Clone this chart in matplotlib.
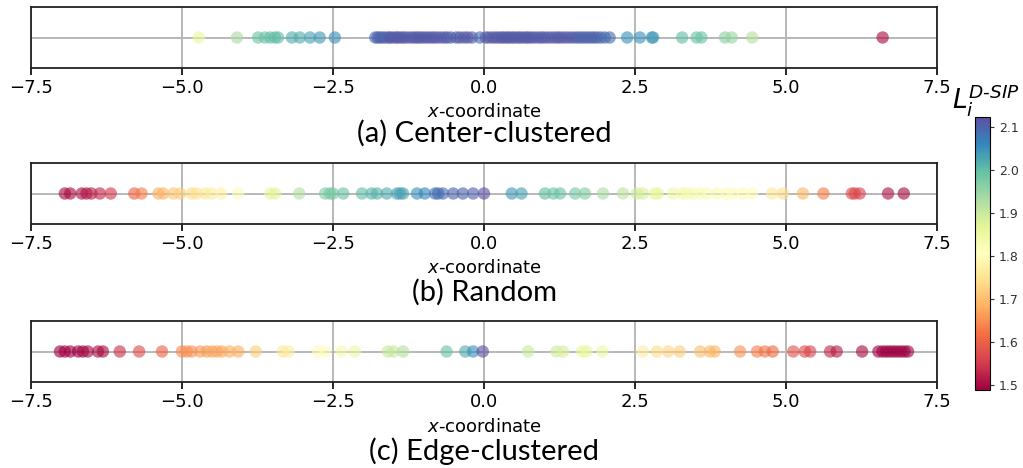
import numpy as np
import matplotlib
matplotlib.use("Agg")
import matplotlib.pyplot as plt
from matplotlib.colors import Normalize

# (a) center-clustered: x positions and L_i^{D-SIP} values
x_center = [-4.72, -4.09, -3.74, -3.63, -3.54, -3.46, -3.41, -3.18, -3.05, -2.88, -2.72, -2.47,
            -1.80, -1.76, -1.72, -1.68, -1.63, -1.58, -1.55, -1.50, -1.45, -1.42, -1.37, -1.33,
            -1.28, -1.22, -1.17, -1.12, -1.08, -1.03, -0.98, -0.93, -0.88, -0.83, -0.78, -0.72,
            -0.66, -0.61, -0.55, -0.46, -0.40, -0.33, -0.27, -0.20, -0.07, 0.03, 0.08, 0.14,
            0.19, 0.24, 0.29, 0.33, 0.38, 0.42, 0.47, 0.51, 0.56, 0.60, 0.65, 0.70, 0.74, 0.79,
            0.84, 0.90, 0.95, 1.00, 1.06, 1.12, 1.18, 1.23, 1.28, 1.34, 1.40, 1.46, 1.52, 1.57,
            1.62, 1.67, 1.72, 1.77, 1.82, 1.87, 1.93, 2.00, 2.08,
            2.37, 2.58, 2.78, 2.80, 3.28, 3.52, 3.60, 3.99, 4.10, 4.44, 6.60]
l_center = [1.86, 1.93, 1.99, 1.99, 2.00, 2.00, 2.00, 2.02, 2.02, 2.03, 2.04, 2.05,
            2.09, 2.10, 2.10, 2.10, 2.10, 2.10, 2.11, 2.11, 2.11, 2.11, 2.11, 2.11,
            2.11, 2.11, 2.11, 2.11, 2.11, 2.11, 2.11, 2.11, 2.11, 2.11, 2.11, 2.11,
            2.11, 2.11, 2.10, 2.11, 2.11, 2.11, 2.11, 2.11, 2.09, 2.11, 2.11, 2.11,
            2.11, 2.11, 2.11, 2.11, 2.11, 2.11, 2.11, 2.11, 2.11, 2.11, 2.11, 2.11, 2.11, 2.11,
            2.11, 2.11, 2.11, 2.11, 2.11, 2.11, 2.11, 2.11, 2.11, 2.11, 2.11, 2.11, 2.11, 2.10,
            2.10, 2.10, 2.10, 2.10, 2.10, 2.10, 2.10, 2.09, 2.09,
            2.05, 2.05, 2.04, 2.04, 2.00, 1.99, 1.99, 1.96, 1.95, 1.92, 1.50]

# (b) random
x_random = [-6.94, -6.85, -6.66, -6.58, -6.50, -6.36, -6.18, -5.79, -5.67, -5.39, -5.31, -5.14,
            -5.03, -4.84, -4.76, -4.62, -4.51, -4.35, -4.07, -3.54, -3.46, -3.06, -2.63, -2.55,
            -2.50, -2.33, -2.02, -1.86, -1.77, -1.61, -1.44, -1.39, -1.34, -1.11, -0.98, -0.81,
            -0.76, -0.68, -0.51, -0.35, -0.18, 0.00, 0.46, 0.62, 1.01, 1.15, 1.26, 1.51, 1.67,
            1.97, 2.30, 2.53, 2.63, 2.83, 2.88, 3.13, 3.28, 3.36, 3.46, 3.58, 3.69, 3.86, 4.02,
            4.12, 4.29, 4.44, 4.77, 4.95, 5.28, 5.62, 6.09, 6.14, 6.22, 6.69, 6.95]
l_random = [1.50, 1.50, 1.51, 1.51, 1.52, 1.53, 1.55, 1.60, 1.63, 1.68, 1.69, 1.71,
            1.72, 1.74, 1.75, 1.76, 1.77, 1.78, 1.81, 1.86, 1.87, 1.92, 1.97, 1.98,
            1.98, 1.99, 2.00, 2.01, 2.01, 2.02, 2.03, 2.03, 2.03, 2.05, 2.06, 2.08,
            2.09, 2.09, 2.10, 2.10, 2.10, 2.12, 2.04, 2.03, 2.00, 1.99, 1.99, 1.98, 1.97,
            1.93, 1.91, 1.89, 1.88, 1.86, 1.86, 1.84, 1.84, 1.83, 1.83, 1.82, 1.82, 1.82, 1.81,
            1.81, 1.80, 1.80, 1.76, 1.74, 1.69, 1.63, 1.57, 1.57, 1.56, 1.51, 1.50]

# (c) edge-clustered
x_edge = [-7.02, -6.94, -6.85, -6.72, -6.64, -6.56, -6.39, -6.31, -6.03, -5.71, -5.33, -5.00,
          -4.92, -4.84, -4.70, -4.59, -4.50, -4.42, -4.34, -4.21, -4.07, -3.78, -3.33, -3.24,
          -2.75, -2.63, -2.36, -2.14, -1.59, -1.50, -1.34, -0.62, -0.31, -0.18, -0.02, 0.73,
          1.20, 1.31, 1.62, 1.70, 1.96, 2.63, 2.86, 3.05, 3.24, 3.58, 3.74, 3.82, 4.24, 4.52,
          4.65, 4.78, 5.12, 5.31, 5.40, 5.73, 5.84, 6.26, 6.53, 6.60, 6.66, 6.72, 6.78, 6.84,
          6.90, 6.96, 7.02]
l_edge = [1.49, 1.49, 1.49, 1.49, 1.49, 1.50, 1.50, 1.50, 1.54, 1.57, 1.60, 1.64,
          1.65, 1.65, 1.66, 1.66, 1.67, 1.67, 1.67, 1.68, 1.68, 1.72, 1.76, 1.77,
          1.80, 1.81, 1.83, 1.85, 1.90, 1.90, 1.92, 1.99, 2.02, 2.05, 2.12, 1.90,
          1.89, 1.88, 1.86, 1.86, 1.85, 1.77, 1.74, 1.73, 1.72, 1.70, 1.69, 1.69, 1.65, 1.63,
          1.62, 1.61, 1.58, 1.57, 1.56, 1.53, 1.52, 1.50, 1.49, 1.49, 1.49, 1.49, 1.49, 1.49,
          1.49, 1.49, 1.49]

captions = ["(a) Center-clustered", "(b) Random", "(c) Edge-clustered"]
xticks = [-7.5, -5.0, -2.5, 0.0, 2.5, 5.0, 7.5]
cbar_ticks = [1.5, 1.6, 1.7, 1.8, 1.9, 2.0, 2.1]

W, H = 1023, 468
fig = plt.figure(figsize=(W / 100, H / 100), dpi=100)
norm = Normalize(vmin=1.488, vmax=2.123)
cmap = plt.get_cmap("Spectral")

panels = [(x_center, l_center), (x_random, l_random), (x_edge, l_edge)]
tops = [7, 163, 321]          # axes top, in pixels
label_y = [112, 268, 427]     # x-label centre, pixels
cap_y = [133, 292, 451]       # caption centre, pixels
ax_h = 61

for i, (xs, ls) in enumerate(panels):
    ax = fig.add_axes([31 / W, 1 - (tops[i] + ax_h) / H, 906 / W, ax_h / H])
    ax.scatter(xs, np.zeros(len(xs)), c=ls, cmap=cmap, norm=norm,
               s=80, alpha=0.62, edgecolors="none", zorder=3)
    ax.set_xlim(-7.5, 7.5)
    ax.set_ylim(-1, 1)
    ax.set_xticks(xticks)
    ax.set_xticklabels(["\u22127.5", "\u22125.0", "\u22122.5", "0.0", "2.5", "5.0", "7.5"])
    ax.set_yticks([0])
    ax.set_yticklabels([])
    ax.tick_params(axis="y", length=0)
    ax.tick_params(axis="x", labelsize=13, length=5, width=1.2, pad=3)
    ax.grid(True, color="#b8b8b8", linewidth=1.4, zorder=0)
    ax.set_axisbelow(True)
    for sp in ax.spines.values():
        sp.set_linewidth(1.3)
        sp.set_color("#222222")
    fig.text(484 / W, 1 - label_y[i] / H, "$x$-coordinate", fontsize=13,
             ha="center", va="center")
    fig.text(484 / W, 1 - cap_y[i] / H, captions[i], fontsize=21,
             family="Lato", ha="center", va="center")

cax = fig.add_axes([975 / W, 1 - 390 / H, 15 / W, 273 / H])
cb = fig.colorbar(plt.cm.ScalarMappable(norm=norm, cmap=cmap), cax=cax)
cb.set_ticks(cbar_ticks)
cb.ax.tick_params(labelsize=9, length=3, colors="#333333")
cb.outline.set_linewidth(0.8)
fig.text(986 / W, 1 - 100 / H, r"$L_i^{D\text{-}SIP}$", fontsize=19,
         ha="center", va="center")

fig.savefig("out.png", dpi=100)
